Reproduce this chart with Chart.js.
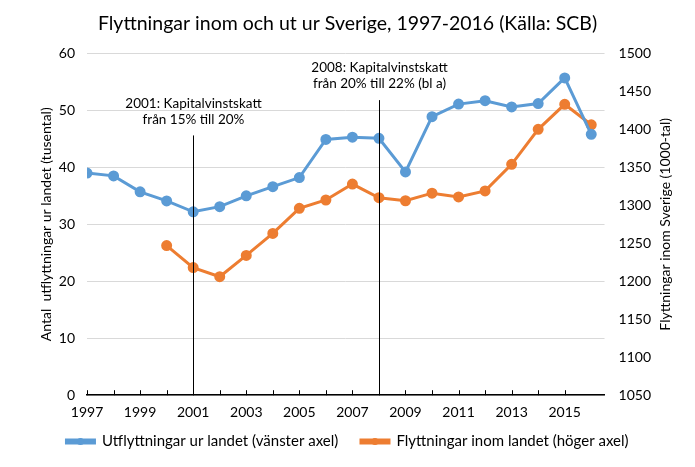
<!DOCTYPE html>
<html>
<head>
<meta charset="utf-8">
<script src="https://cdn.jsdelivr.net/npm/chart.js@4"></script>
<style>
  html, body { margin: 0; padding: 0; background: #fff; }
  #wrap { width: 695px; height: 467px; }
</style>
</head>
<body>
<div id="wrap"><canvas id="myChart"></canvas></div>
<script>
const years = [1997,1998,1999,2000,2001,2002,2003,2004,2005,2006,2007,2008,2009,2010,2011,2012,2013,2014,2015,2016];
const utflyttningar = [39.0,38.5,35.7,34.1,32.2,33.1,35.0,36.6,38.2,44.9,45.3,45.1,39.2,48.9,51.1,51.7,50.6,51.2,55.7,45.8];
const inomLandet = [null,null,null,1247,1218,1206,1234,1263,1296,1307,1328,1310,1306,1316,1311,1319,1354,1400,1433,1406];
const leftTicks = [0, 60, 10];
const rightTicks = [1050, 1500, 50];

// händelser: år, topp (vänster axel), text
const events = [
  { year: 2001, top: 45.6, lines: ['2001: Kapitalvinstskatt', 'från 15% till 20%'] },
  { year: 2008, top: 51.8, lines: ['2008: Kapitalvinstskatt', 'från 20% till 22% (bl a)'] }
];

const FONT = 'Lato';
const BLUE = '#5b9bd5';
const ORANGE = '#ed7d31';

const extras = {
  id: 'extras',
  afterDatasetsDraw(chart) {
    const c = chart.ctx, x = chart.scales.x, y = chart.scales.y, area = chart.chartArea;
    c.save();
    // tick marks inside the axis
    c.strokeStyle = '#000';
    c.lineWidth = 1;
    x.ticks.forEach(t => {
      const px = Math.round(x.getPixelForValue(t.value)) + 0.5;
      c.beginPath();
      c.moveTo(px, area.bottom);
      c.lineTo(px, area.bottom - 5);
      c.stroke();
    });
    // event lines and text
    c.font = '13.5px ' + FONT;
    c.fillStyle = '#000';
    c.textAlign = 'center';
    c.textBaseline = 'middle';
    events.forEach(e => {
      const px = Math.round(x.getPixelForValue(e.year)) + 0.5;
      const top = y.getPixelForValue(e.top);
      c.beginPath();
      c.moveTo(px, top);
      c.lineTo(px, area.bottom);
      c.stroke();
      c.fillText(e.lines[0], px, top - 32);
      c.fillText(e.lines[1], px, top - 16);
    });
    c.restore();
  },
  afterDraw(chart) {
    const c = chart.ctx, area = chart.chartArea;
    c.save();
    // right axis title, bottom-to-top
    c.translate(665, (area.top + area.bottom) / 2);
    c.rotate(-Math.PI / 2);
    c.font = '14px ' + FONT;
    c.fillStyle = '#000';
    c.textAlign = 'center';
    c.textBaseline = 'middle';
    c.fillText('Flyttningar inom Sverige (1000-tal)', 0, 0);
    c.restore();
    // dots on legend lines
    const lg = chart.legend;
    if (lg && lg.legendHitBoxes) {
      lg.legendHitBoxes.forEach((b, i) => {
        c.save();
        c.fillStyle = chart.data.datasets[i].borderColor;
        c.beginPath();
        c.arc(b.left + 14, b.top + b.height / 2, 3.5, 0, Math.PI * 2);
        c.fill();
        c.restore();
      });
    }
  }
};

new Chart(document.getElementById('myChart'), {
  type: 'line',
  data: {
    datasets: [{
      label: 'Utflyttningar ur landet (vänster axel)',
      data: years.map((yr, i) => ({ x: yr, y: utflyttningar[i] })),
      borderColor: BLUE,
      backgroundColor: BLUE,
      borderWidth: 3,
      pointRadius: 4,
      pointHoverRadius: 4,
      yAxisID: 'y'
    }, {
      label: 'Flyttningar inom landet (höger axel)',
      data: years.map((yr, i) => ({ x: yr, y: inomLandet[i] })),
      borderColor: ORANGE,
      backgroundColor: ORANGE,
      borderWidth: 3,
      pointRadius: 4,
      pointHoverRadius: 4,
      yAxisID: 'y1'
    }]
  },
  options: {
    responsive: true,
    maintainAspectRatio: false,
    animation: false,
    layout: { padding: { left: 30, right: 30, top: 8, bottom: 8 } },
    plugins: {
      title: {
        display: true,
        text: 'Flyttningar inom och ut ur Sverige, 1997-2016 (Källa: SCB)',
        color: '#000',
        font: { family: FONT, size: 19.5, weight: 'normal' },
        padding: { top: 4, bottom: 18 }
      },
      legend: {
        position: 'bottom',
        labels: {
          color: '#000',
          font: { family: FONT, size: 15 },
          boxWidth: 28,
          boxHeight: 3,
          padding: 4,
          // extra space after first item, as in the original
          generateLabels: chart => Chart.defaults.plugins.legend.labels.generateLabels(chart)
            .map((l, i) => (i === 0 ? { ...l, text: l.text + '\u2003\u2002' } : l))
        }
      },
      tooltip: { enabled: false }
    },
    scales: {
      x: {
        type: 'linear',
        min: 1997,
        max: 2016.5,
        afterBuildTicks: s => { s.ticks = s.ticks.filter(t => Number.isInteger(t.value)); },
        ticks: {
          stepSize: 1,
          autoSkip: false,
          maxRotation: 0,
          padding: 9,
          color: '#000',
          font: { family: FONT, size: 14 },
          callback: v => (v % 2 === 1 ? String(v) : '')
        },
        grid: { display: true, drawOnChartArea: false, drawTicks: false },
        border: { color: '#000', width: 1.5 }
      },
      y: {
        position: 'left',
        min: leftTicks[0],
        max: leftTicks[1],
        ticks: { stepSize: leftTicks[2], padding: 12, color: '#000', font: { family: FONT, size: 14 } },
        grid: { color: '#d9d9d9', drawTicks: false },
        border: { display: false },
        title: {
          display: true,
          text: 'Antal  utflyttningar ur landet (tusental)',
          color: '#000',
          font: { family: FONT, size: 14 },
          padding: { top: 8, bottom: -8 }
        }
      },
      y1: {
        position: 'right',
        min: rightTicks[0],
        max: rightTicks[1],
        ticks: { stepSize: rightTicks[2], padding: 14, color: '#000', font: { family: FONT, size: 14 }, callback: v => String(v) },
        grid: { display: false, drawTicks: false },
        border: { display: false }
      }
    }
  },
  plugins: [extras]
});
</script>
</body>
</html>
